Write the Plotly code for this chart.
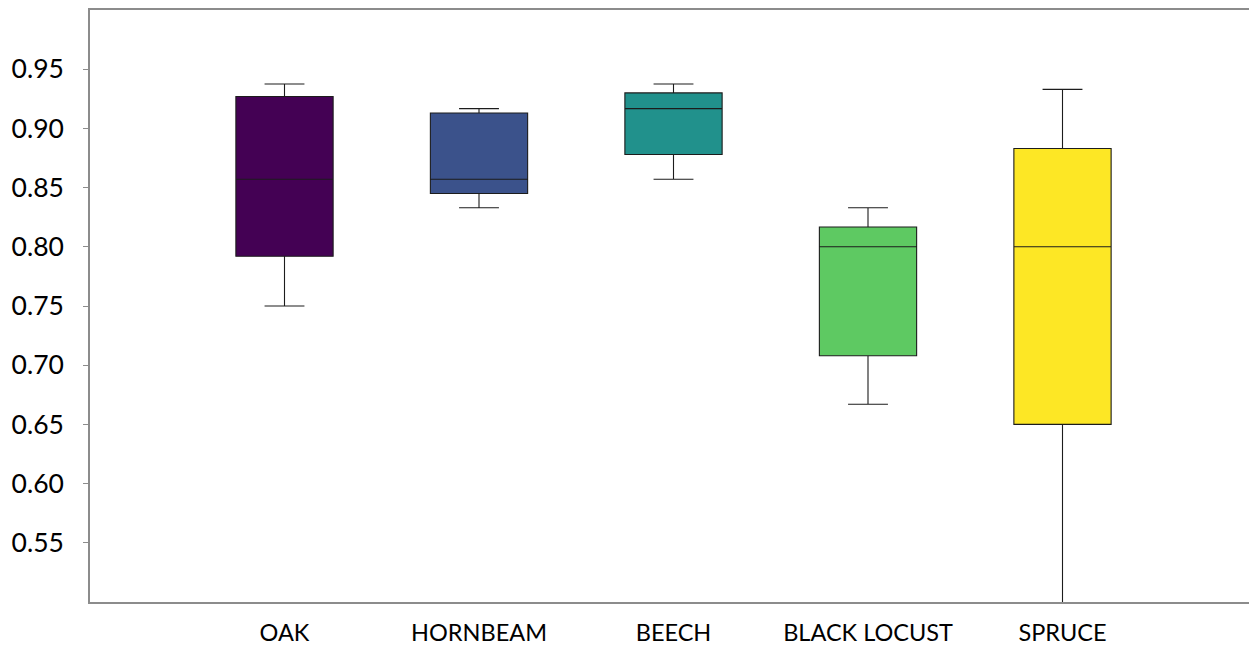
import plotly.graph_objects as go

species = ["OAK", "HORNBEAM", "BEECH", "BLACK LOCUST", "SPRUCE"]
lower_fence = [0.750, 0.833, 0.857, 0.667, 0.450]
q1 = [0.792, 0.845, 0.878, 0.708, 0.650]
median = [0.857, 0.857, 0.9167, 0.800, 0.800]
q3 = [0.927, 0.913, 0.930, 0.8167, 0.883]
upper_fence = [0.9375, 0.9167, 0.9375, 0.833, 0.933]
colors = ["#440154", "#3b528b", "#21918c", "#5ec962", "#fde725"]

y_ticks = [0.55, 0.60, 0.65, 0.70, 0.75, 0.80, 0.85, 0.90, 0.95]
y_labels = ["0.55", "0.60", "0.65", "0.70", "0.75", "0.80", "0.85", "0.90", "0.95"]

fig = go.Figure()
for i, name in enumerate(species):
    fig.add_trace(go.Box(
        x=[name],
        q1=[q1[i]], median=[median[i]], q3=[q3[i]],
        lowerfence=[lower_fence[i]], upperfence=[upper_fence[i]],
        name=name,
        fillcolor=colors[i],
        line=dict(color="#1c1c1c", width=1.1),
        whiskerwidth=0.41,
        width=0.5,
        boxpoints=False,
        hoverinfo="skip",
        showlegend=False,
    ))

# page body adds an 8px offset; margins compensate so the plot area sits at 90..1257 x 10..602
fig.update_layout(
    width=1249, height=641,
    margin=dict(l=82, r=0, t=2, b=46.5),
    paper_bgcolor="white", plot_bgcolor="white",
    boxmode="overlay",
    font=dict(family="Lato, Open Sans, sans-serif", color="#000000"),
    xaxis=dict(
        type="category",
        categoryorder="array", categoryarray=species,
        range=[-1, 5],
        showline=True, linecolor="#8c8c8c", linewidth=1.5, mirror=True,
        showgrid=False, zeroline=False,
        ticks="", tickfont=dict(size=23.5, family="Lato, sans-serif"),
        ticklabelstandoff=9,
    ),
    yaxis=dict(
        range=[0.5, 1.0],
        tickvals=y_ticks, ticktext=y_labels,
        showline=True, linecolor="#8c8c8c", linewidth=1.5,
        showgrid=False, zeroline=False,
        ticks="outside", ticklen=5, tickcolor="#8c8c8c", tickwidth=1,
        tickfont=dict(size=26.5, family="Lato, sans-serif"),
        ticklabelstandoff=14,
    ),
)

fig.write_html("out.html")
